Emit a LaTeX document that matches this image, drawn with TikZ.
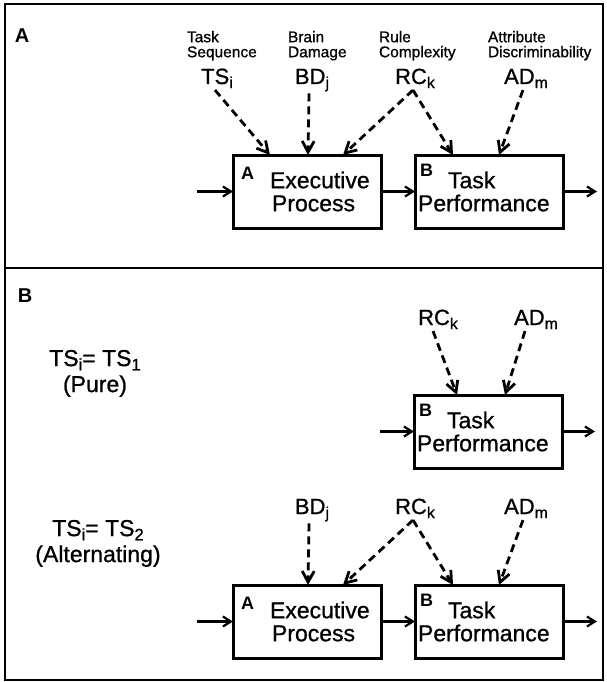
\documentclass[tikz,border=0pt]{standalone}
\usepackage{fontspec}
\setmainfont{Liberation Sans}
\newfontfamily\inkfont{Liberation Sans}[FakeBold=0.9]
\usetikzlibrary{arrows.meta, positioning}

\newcommand{\lowsub}[1]{\raisebox{-0.35ex}{\scalebox{0.72}{#1}}}

\begin{document}
\begin{tikzpicture}[
  x=1pt, y=-1pt,
  node distance=34pt,
  every node/.style={inner sep=0pt, outer sep=0pt},
  panel/.style={font=\bfseries\fontsize{20}{20}\selectfont},
  box/.style={draw, line width=3pt, minimum width=148pt, minimum height=73pt,
              text width=142pt, align=left, inner xsep=3pt,
              font=\inkfont\fontsize{23}{23}\selectfont},
  tag/.style={font=\bfseries\fontsize{18}{18}\selectfont, anchor=north west},
  factor/.style={font=\inkfont\fontsize{22}{22}\selectfont, inner sep=2pt, anchor=base},
  caption/.style={font=\inkfont\fontsize{15.5}{15}\selectfont, align=left, anchor=north west},
  cond/.style={font=\inkfont\fontsize{23}{26}\selectfont, align=center, anchor=north},
  flow/.style={-{Straight Barb[length=8pt, width=10pt]}, line width=2.2pt},
  effect/.style={-{Straight Barb[length=11pt, width=12pt]}, line width=2.8pt,
                 dash pattern=on 8pt off 5pt}
]
  \useasboundingbox (0,0) rectangle (606,682);

  % frame and divider
  \draw[line width=2pt] (5,4) rectangle (603,680);
  \draw[line width=2pt] (5,268) -- (603,268);

  % Panel A: full model
  \node[panel] (panA) at (22,36) {A};

  \node[caption] (tsAcap) at (187,31) {Task\\Sequence};
  \node[caption] (bdAcap) at (288,31) {Brain\\Damage};
  \node[caption] (rcAcap) at (379,31) {Rule\\Complexity};
  \node[caption] (adAcap) at (488,31) {Attribute\\Discriminability};

  \node[factor] (tsA) at (217,84) {TS\lowsub{i}};
  \node[factor] (bdA) at (312,84) {BD\lowsub{j}};
  \node[factor] (rcA) at (415,84) {RC\lowsub{k}};
  \node[factor] (adA) at (526,84) {AD\lowsub{m}};

  \node[box] (exA) at (307,191.5)
    {\hspace*{34pt}Executive\\\hspace*{36pt}Process};
  \node[box, right=of exA] (perfA)
    {\hspace*{30pt}Task\\Performance};
  \node[tag] (exAtag) at ([xshift=8pt, yshift=-12pt]exA.north west) {A};
  \node[tag] (perfAtag) at ([xshift=5pt, yshift=-9pt]perfA.north west) {B};

  \coordinate (inA) at (197,191.5);
  \coordinate (outA) at (597,191.5);

  \draw[flow] (inA) -- (exA.west);
  \draw[flow] (exA) -- (perfA);
  \draw[flow] (perfA.east) -- (outA);
  \draw[effect] ([xshift=-2pt]tsA.south) -- ([xshift=-37pt]exA.north);
  \draw[effect] ([xshift=-3pt]bdA.south) -- ([xshift=1pt]exA.north);
  \draw[effect] ([xshift=-2pt]rcA.south) -- ([xshift=36pt]exA.north);
  \draw[effect] ([xshift=-2pt]rcA.south) -- ([xshift=-36pt]perfA.north);
  \draw[effect] ([xshift=-3pt]adA.south) -- ([xshift=10pt]perfA.north);

  % Panel B: pure and alternating blocks
  \node[panel] (panB) at (25,296) {B};

  \node[cond] (pure) at (95,350) {TS\lowsub{i}= TS\lowsub{1}\\(Pure)};
  \node[cond] (alt) at (98,520) {TS\lowsub{i}= TS\lowsub{2}\\(Alternating)};

  % pure
  \node[factor] (rcP) at (438,325) {RC\lowsub{k}};
  \node[factor] (adP) at (536,325) {AD\lowsub{m}};
  \node[box] (perfP) at (488,431.5)
    {\hspace*{30pt}Task\\Performance};
  \node[tag] (perfPtag) at ([xshift=5pt, yshift=-9pt]perfP.north west) {B};

  \coordinate (inP) at (380,431.5);
  \coordinate (outP) at (595,431.5);

  \draw[flow] (inP) -- (perfP.west);
  \draw[flow] (perfP.east) -- (outP);
  \draw[effect] ([xshift=-5pt]rcP.south) -- ([xshift=-31pt]perfP.north);
  \draw[effect] ([xshift=-11pt]adP.south) -- ([xshift=17pt]perfP.north);

  % alternating
  \node[factor] (bdL) at (312,514) {BD\lowsub{j}};
  \node[factor] (rcL) at (415,514) {RC\lowsub{k}};
  \node[factor] (adL) at (526,514) {AD\lowsub{m}};

  \node[box] (exL) at (307,621.5)
    {\hspace*{34pt}Executive\\\hspace*{36pt}Process};
  \node[box, right=of exL] (perfL)
    {\hspace*{30pt}Task\\Performance};
  \node[tag] (exLtag) at ([xshift=8pt, yshift=-12pt]exL.north west) {A};
  \node[tag] (perfLtag) at ([xshift=5pt, yshift=-9pt]perfL.north west) {B};

  \coordinate (inL) at (197,621.5);
  \coordinate (outL) at (597,621.5);

  \draw[flow] (inL) -- (exL.west);
  \draw[flow] (exL) -- (perfL);
  \draw[flow] (perfL.east) -- (outL);
  \draw[effect] ([xshift=-3pt]bdL.south) -- ([xshift=1pt]exL.north);
  \draw[effect] ([xshift=-2pt]rcL.south) -- ([xshift=36pt]exL.north);
  \draw[effect] ([xshift=-2pt]rcL.south) -- ([xshift=-36pt]perfL.north);
  \draw[effect] ([xshift=-3pt]adL.south) -- ([xshift=10pt]perfL.north);
\end{tikzpicture}
\end{document}
